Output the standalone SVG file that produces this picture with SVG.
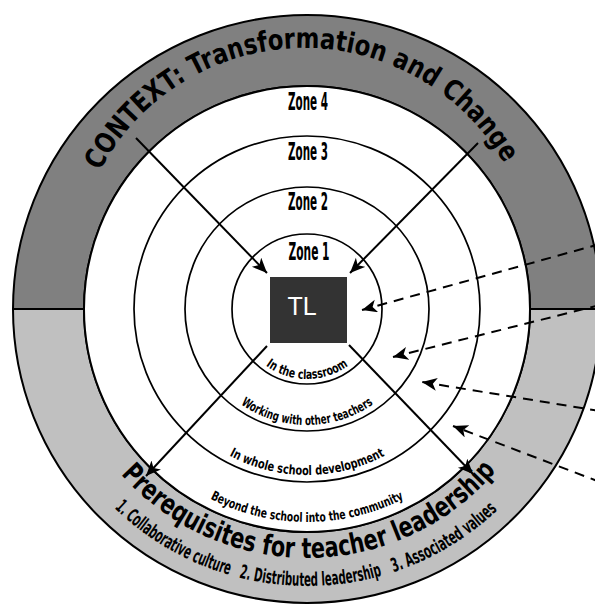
<svg xmlns="http://www.w3.org/2000/svg" width="595" height="606" viewBox="0 0 595 606">
  <style>
    .ring { fill: none; stroke: #000; stroke-width: 1.7; }
    .edge { stroke: #000; stroke-width: 2; }
    .zone { font-family: "Liberation Sans Narrow", "DejaVu Sans Condensed", "Liberation Sans", sans-serif; font-weight: bold; font-size: 24px; text-anchor: middle; fill: #000; }
    .lbl { font-family: "Liberation Sans Narrow", "DejaVu Sans Condensed", "Liberation Sans", sans-serif; font-weight: bold; fill: #000; }
    .big { font-family: "DejaVu Sans", "Liberation Sans", sans-serif; font-weight: bold; font-size: 28px; fill: #000; }
    .solid { fill: none; stroke: #000; stroke-width: 2; marker-end: url(#head); }
    .dash { fill: none; stroke: #000; stroke-width: 2; stroke-dasharray: 10 7; marker-end: url(#head); }
  </style>
  <defs>
    <marker id="head" markerUnits="userSpaceOnUse" markerWidth="16" markerHeight="14" refX="15" refY="6.5" orient="auto">
      <path d="M0,0 L15,6.5 L0,13 L4,6.5 Z" fill="#000"/>
    </marker>
    <!-- baselines for curved text -->
    <path id="arcTop" d="M73,279 A231,231 0 0 1 535,279"/>
    <path id="arcPre" d="M58,309 A249,249 0 0 0 556,309"/>
    <path id="arcItems" d="M30,309 A277,277 0 0 0 584,309"/>
    <path id="arcZ1" d="M237,309 A70,70 0 0 0 377,309"/>
    <path id="arcZ2" d="M191,309 A116,116 0 0 0 423,309"/>
    <path id="arcZ3" d="M141,309 A166,166 0 0 0 473,309"/>
    <path id="arcZ4" d="M94,309 A213,213 0 0 0 520,309"/>
  </defs>

  <!-- outer band: context (upper) and prerequisites (lower) -->
  <g id="band">
    <path d="M13,309 A294,294 0 0 1 601,309 L530,309 A223,223 0 0 0 84,309 Z" fill="#808080" class="edge"/>
    <path d="M13,309 A294,294 0 0 0 601,309 L530,309 A223,223 0 0 1 84,309 Z" fill="#c0c0c0" class="edge"/>
    <circle cx="307" cy="309" r="223" fill="#fff" class="edge"/>
    <text class="big"><textPath href="#arcTop" startOffset="49.4%" text-anchor="middle" textLength="492" lengthAdjust="spacingAndGlyphs">CONTEXT: Transformation and Change</textPath></text>
    <text class="big"><textPath href="#arcPre" startOffset="50.3%" text-anchor="middle" textLength="425" lengthAdjust="spacingAndGlyphs">Prerequisites for teacher leadership</textPath></text>
    <text class="lbl" font-size="19"><textPath href="#arcItems" startOffset="222" textLength="134" lengthAdjust="spacingAndGlyphs">1. Collaborative culture</textPath></text>
    <text class="lbl" font-size="19"><textPath href="#arcItems" startOffset="366" textLength="145" lengthAdjust="spacingAndGlyphs">2. Distributed leadership</textPath></text>
    <text class="lbl" font-size="19"><textPath href="#arcItems" startOffset="523" textLength="122" lengthAdjust="spacingAndGlyphs">3. Associated values</textPath></text>
  </g>

  <!-- zone rings -->
  <g id="zone4">
    <text class="zone" x="308" y="110" textLength="40" lengthAdjust="spacingAndGlyphs">Zone 4</text>
    <text class="lbl" font-size="13"><textPath href="#arcZ4" startOffset="50%" text-anchor="middle" textLength="201" lengthAdjust="spacingAndGlyphs">Beyond the school into the community</textPath></text>
  </g>
  <g id="zone3">
    <circle cx="307" cy="309" r="173" class="ring"/>
    <text class="zone" x="308" y="160" textLength="40" lengthAdjust="spacingAndGlyphs">Zone 3</text>
    <text class="lbl" font-size="13"><textPath href="#arcZ3" startOffset="50%" text-anchor="middle" textLength="162" lengthAdjust="spacingAndGlyphs">In whole school development</textPath></text>
  </g>
  <g id="zone2">
    <circle cx="307" cy="309" r="122" class="ring"/>
    <text class="zone" x="308" y="210" textLength="40" lengthAdjust="spacingAndGlyphs">Zone 2</text>
    <text class="lbl" font-size="13"><textPath href="#arcZ2" startOffset="50%" text-anchor="middle" textLength="141" lengthAdjust="spacingAndGlyphs">Working with other teachers</textPath></text>
  </g>
  <g id="zone1">
    <circle cx="307" cy="309" r="75" class="ring"/>
    <text class="zone" x="309" y="260" textLength="41" lengthAdjust="spacingAndGlyphs">Zone 1</text>
    <text class="lbl" font-size="13"><textPath href="#arcZ1" startOffset="50%" text-anchor="middle" textLength="88" lengthAdjust="spacingAndGlyphs">In the classroom</textPath></text>
  </g>

  <!-- teacher leader -->
  <g id="tl">
    <rect x="270" y="277" width="77" height="66" fill="#333333"/>
    <text x="302" y="315" font-family="Liberation Sans, Arial, sans-serif" font-size="25" fill="#fff" text-anchor="middle">TL</text>
  </g>

  <g id="connectors">
    <line x1="136" y1="138" x2="267" y2="273" class="solid"/>
    <line x1="478" y1="143" x2="350" y2="273" class="solid"/>
    <line x1="267" y1="346" x2="146" y2="476" class="solid"/>
    <line x1="349" y1="345" x2="473" y2="474" class="solid"/>
    <line x1="600" y1="244" x2="362" y2="310" class="dash"/>
    <line x1="600" y1="305" x2="393" y2="357" class="dash"/>
    <line x1="600" y1="411" x2="422" y2="382" class="dash"/>
    <line x1="600" y1="482" x2="453" y2="426" class="dash"/>
  </g>
</svg>
